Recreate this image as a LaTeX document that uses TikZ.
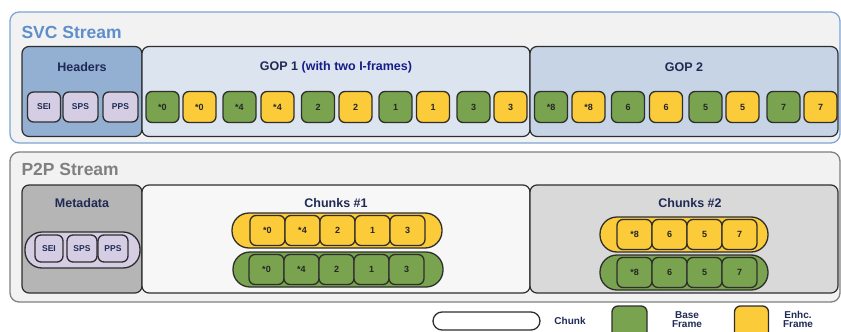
\documentclass[tikz,border=0pt]{standalone}
\usepackage{fontspec}
\setmainfont{Liberation Sans}
\definecolor{grn}{HTML}{7AA34F}
\definecolor{ylw}{HTML}{FCCB3A}
\definecolor{lav}{HTML}{D5CDE3}
\definecolor{navy}{HTML}{1F2A55}
\definecolor{svcblue}{HTML}{5E8ECB}
\definecolor{edge}{HTML}{2E2E2E}
\begin{document}
\begin{tikzpicture}[x=1pt,y=-1pt,
  outerbox/.style={draw, rounded corners=9pt, line width=1.3pt, fill=black!5, inner sep=0pt},
  secbox/.style={draw=edge, rounded corners=7pt, line width=1.2pt, inner sep=0pt, minimum height=#1},
  frame/.style={draw=edge, rounded corners=6pt, line width=1.3pt, minimum width=33pt, minimum height=31pt, inner sep=0pt, font=\bfseries\fontsize{9}{10}\selectfont, text=black!85},
  cframe/.style={frame, minimum width=35pt, minimum height=30pt},
  hdr/.style={draw=edge, rounded corners=6pt, line width=1.3pt, fill=lav, minimum height=30pt, inner sep=0pt, font=\bfseries\fontsize{8.5}{9}\selectfont, text=navy},
  chunk/.style={draw=edge, rounded corners=17pt, line width=1.3pt, minimum height=35pt, inner sep=0pt},
  title/.style={font=\bfseries\fontsize{17.5}{18}\selectfont, anchor=west},
  lbl/.style={font=\bfseries\fontsize{12.5}{14}\selectfont, text=navy},
  leg/.style={font=\bfseries\fontsize{10}{8.5}\selectfont, text=navy, align=center}
]
\useasboundingbox (0,0) rectangle (841,332);
% ---------- SVC stream ----------
\node[outerbox, draw=svcblue!80, minimum width=830pt, minimum height=131pt] (svc) at (425,77.5) {};
\node[title, text=svcblue] (svct) at (18,32) {SVC Stream};
\node[secbox=90pt, fill={rgb,255:red,147;green,175;blue,210}, minimum width=120pt] (hdrs) at (82,91.5) {};
\node[secbox=90pt, fill={rgb,255:red,220;green,228;blue,239}, minimum width=388pt] (gop1) at (336,91.5) {};
\node[secbox=90pt, fill={rgb,255:red,198;green,212;blue,230}, minimum width=308pt] (gop2) at (684,91.5) {};
\node[lbl] (hdrst) at (82,67) {Headers};
\node[lbl] (gop1t) at (336,67) {GOP 1 \textcolor{navy!70!blue}{(with two I-frames)}};
\node[lbl] (gop2t) at (684,67) {GOP 2};
\node[hdr, minimum width=33pt] (sei) at (44,107) {SEI};
\node[hdr, minimum width=35pt] (sps) at (80.5,107) {SPS};
\node[hdr, minimum width=35pt] (pps) at (120.5,107) {PPS};
% GOP 1 frames
\node[frame, fill=grn] (a1) at (162.5,107) {*0};
\node[frame, fill=ylw] (a2) at (199.5,107) {*0};
\node[frame, fill=grn] (a3) at (239.5,107) {*4};
\node[frame, fill=ylw] (a4) at (277.5,107) {*4};
\node[frame, fill=grn] (a5) at (318,107) {2};
\node[frame, fill=ylw] (a6) at (355.5,107) {2};
\node[frame, fill=grn] (a7) at (395.5,107) {1};
\node[frame, fill=ylw] (a8) at (433,107) {1};
\node[frame, fill=grn] (a9) at (473.5,107) {3};
\node[frame, fill=ylw] (a10) at (510.5,107) {3};
% GOP 2 frames
\node[frame, fill=grn] (b1) at (551,107) {*8};
\node[frame, fill=ylw] (b2) at (588.5,107) {*8};
\node[frame, fill=grn] (b3) at (628,107) {6};
\node[frame, fill=ylw] (b4) at (666,107) {6};
\node[frame, fill=grn] (b5) at (705.5,107) {5};
\node[frame, fill=ylw] (b6) at (742.5,107) {5};
\node[frame, fill=grn] (b7) at (783.5,107) {7};
\node[frame, fill=ylw] (b8) at (820.5,107) {7};
% ---------- P2P stream ----------
\node[outerbox, draw=black!50, minimum width=830pt, minimum height=150pt] (p2p) at (425,227) {};
\node[title, text=black!50] (p2pt) at (18,169) {P2P Stream};
\node[secbox=108pt, fill=black!29, minimum width=120pt] (meta) at (82,239) {};
\node[secbox=108pt, fill=black!3, minimum width=388pt] (ch1) at (336,239) {};
\node[secbox=108pt, fill=black!15, minimum width=308pt] (ch2) at (684,239) {};
\node[lbl] (metat) at (82,203) {Metadata};
\node[lbl] (ch1t) at (336,203) {Chunks \#1};
\node[lbl] (ch2t) at (690,203) {Chunks \#2};
% metadata chunk
\node[chunk, fill=lav, minimum width=115pt, minimum height=36pt] (mchunk) at (82.5,250) {};
\node[hdr, minimum width=28pt, minimum height=27pt] (msei) at (49,248.5) {SEI};
\node[hdr, minimum width=30pt, minimum height=27pt] (msps) at (82,248.5) {SPS};
\node[hdr, minimum width=30pt, minimum height=27pt] (mpps) at (113,248.5) {PPS};
% chunks #1
\node[chunk, fill=ylw, minimum width=210pt] (c1y) at (337,230.5) {};
\node[cframe, fill=ylw] (c1y1) at (267.5,230.5) {*0};
\node[cframe, fill=ylw] (c1y2) at (302.5,230.5) {*4};
\node[cframe, fill=ylw] (c1y3) at (337.5,230.5) {2};
\node[cframe, fill=ylw] (c1y4) at (372.5,230.5) {1};
\node[cframe, fill=ylw] (c1y5) at (407.5,230.5) {3};
\node[chunk, fill=grn, minimum width=210pt] (c1g) at (338,269.5) {};
\node[cframe, fill=grn] (c1g1) at (266.5,269.5) {*0};
\node[cframe, fill=grn] (c1g2) at (301.5,269.5) {*4};
\node[cframe, fill=grn] (c1g3) at (336.5,269.5) {2};
\node[cframe, fill=grn] (c1g4) at (371.5,269.5) {1};
\node[cframe, fill=grn] (c1g5) at (406.5,269.5) {3};
% chunks #2
\node[chunk, fill=ylw, minimum width=168pt] (c2y) at (684,234.5) {};
\node[cframe, fill=ylw] (c2y1) at (634.5,234.5) {*8};
\node[cframe, fill=ylw] (c2y2) at (669.5,234.5) {6};
\node[cframe, fill=ylw] (c2y3) at (704.5,234.5) {5};
\node[cframe, fill=ylw] (c2y4) at (739.5,234.5) {7};
\node[chunk, fill=grn, minimum width=168pt] (c2g) at (684,272.5) {};
\node[cframe, fill=grn] (c2g1) at (634.5,272.5) {*8};
\node[cframe, fill=grn] (c2g2) at (669.5,272.5) {6};
\node[cframe, fill=grn] (c2g3) at (704.5,272.5) {5};
\node[cframe, fill=grn] (c2g4) at (739.5,272.5) {7};
% ---------- legend ----------
\node[chunk, fill=white, rounded corners=9pt, minimum width=107pt, minimum height=18pt] (lchunk) at (486.5,321) {};
\node[leg] (lchunkt) at (570,321) {Chunk};
\node[frame, fill=grn, minimum width=35pt, minimum height=32pt] (lbase) at (629.5,322) {};
\node[leg] (lbaset) at (687,319.5) {Base\\Frame};
\node[frame, fill=ylw, minimum width=34pt, minimum height=32pt] (lenh) at (751.5,322) {};
\node[leg] (lenht) at (798,319.5) {Enhc.\\Frame};
\end{tikzpicture}
\end{document}
